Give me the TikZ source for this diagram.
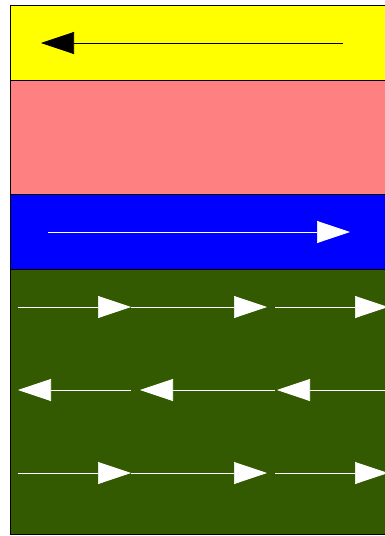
\documentclass[tikz,border=0pt]{standalone}
\usetikzlibrary{arrows.meta}
\definecolor{topyellow}{RGB}{255,255,0}
\definecolor{midsalmon}{RGB}{255,128,128}
\definecolor{lowblue}{RGB}{0,0,255}
\definecolor{basegreen}{RGB}{51,90,0}
\begin{document}
\begin{tikzpicture}[
  x=1pt,y=-1pt,
  layer/.style={draw=black,line width=0.8pt},
  flow/.style={draw=white,line width=0.7pt,-{Triangle[length=33pt,width=22pt]}},
  darkflow/.style={draw=black,line width=0.7pt,-{Triangle[length=33pt,width=22pt]}}]
  \useasboundingbox (0,0) rectangle (385,536);
  \clip (0,0) rectangle (385,536);
  % layers
  \filldraw[layer,fill=topyellow] (10,5) rectangle (400,80);
  \filldraw[layer,fill=midsalmon] (10,80) rectangle (400,194);
  \filldraw[layer,fill=lowblue] (10,194) rectangle (400,269);
  \filldraw[layer,fill=basegreen] (10,269) rectangle (400,534);
  % top and blue arrows
  \coordinate (YS) at (343,43);
  \coordinate (YE) at (41,43);
  \coordinate (BS) at (48,232);
  \coordinate (BE) at (350,232);
  \draw[darkflow] (YS)--(YE);
  \draw[flow] (BS)--(BE);
  % green rows
  \foreach \r in {307,473}{
    \draw[flow] (18,\r)--(131,\r);
    \draw[flow] (131,\r)--(267,\r);
    \draw[flow] (275,\r)--(388,\r);
  }
  \draw[flow] (131,390)--(18,390);
  \draw[flow] (275,390)--(140,390);
  \draw[flow] (400,390)--(277,390);
\end{tikzpicture}
\end{document}
